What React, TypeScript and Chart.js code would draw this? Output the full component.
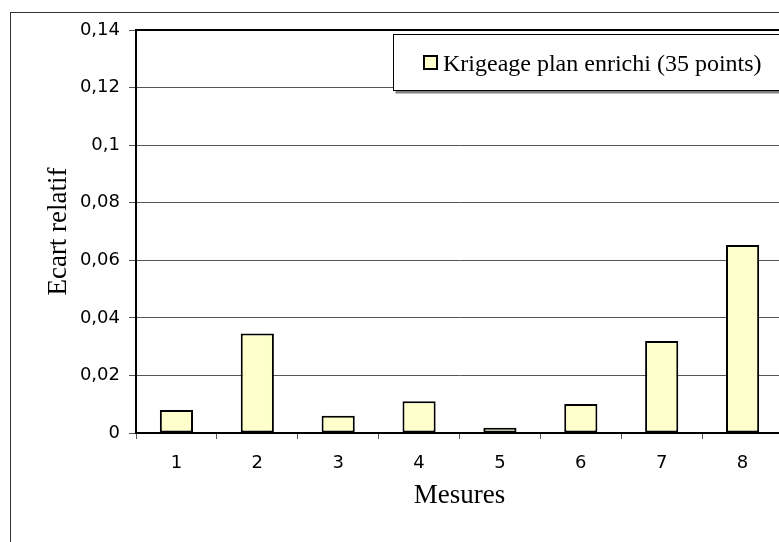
import React, { useEffect, useRef } from "react";
import { Chart, registerables } from "chart.js";

Chart.register(...registerables);

const categories = ["1", "2", "3", "4", "5", "6", "7", "8"];
const ecartValues = [0.008, 0.0346, 0.006, 0.011, 0.0018, 0.0101, 0.032, 0.0653];
const seriesLabel = "Krigeage plan enrichi (35 points)";
const yTickLabels = ["0", "0,02", "0,04", "0,06", "0,08", "0,1", "0,12", "0,14"];
const xTitle = "Mesures";
const yTitle = "Ecart relatif";

const BAR_FILL = "#FFFFCC";
const SANS = "'DejaVu Sans', sans-serif";
const SERIF = "'Liberation Serif', 'Times New Roman', serif";

const framePlugin = {
  id: "frame",
  beforeDraw(chart: any) {
    const ctx = chart.ctx;
    ctx.save();
    ctx.fillStyle = "#ffffff";
    ctx.fillRect(0, 0, chart.width, chart.height);
    ctx.strokeStyle = "#333333";
    ctx.lineWidth = 1;
    ctx.strokeRect(10.5, 12.5, chart.width + 50, chart.height + 50);
    ctx.restore();
  },
  afterDraw(chart: any) {
    const ctx = chart.ctx;
    const a = chart.chartArea;
    ctx.save();
    ctx.strokeStyle = "#000000";
    ctx.lineWidth = 2;
    ctx.strokeRect(a.left, a.top, a.right - a.left, a.bottom - a.top);

    // legend box
    const lx = 393.5;
    const ly = 34.5;
    const lh = 56;
    ctx.fillStyle = "#808080";
    ctx.fillRect(lx + 2, ly + lh, chart.width, 3);
    ctx.fillStyle = "#ffffff";
    ctx.fillRect(lx, ly, chart.width, lh);
    ctx.strokeStyle = "#000000";
    ctx.lineWidth = 1;
    ctx.strokeRect(lx, ly, chart.width, lh);

    const ds = chart.data.datasets[0];
    ctx.fillStyle = ds.backgroundColor;
    ctx.fillRect(424, 56, 13, 13);
    ctx.strokeStyle = "#000000";
    ctx.lineWidth = 2;
    ctx.strokeRect(424, 56, 13, 13);

    ctx.fillStyle = "#000000";
    ctx.font = "24px " + SERIF;
    ctx.textBaseline = "alphabetic";
    ctx.textAlign = "left";
    ctx.fillText(ds.label, 443, 71);
    ctx.restore();
  },
};

export default function App() {
  const ref = useRef<HTMLCanvasElement | null>(null);

  useEffect(() => {
    document.body.style.margin = "0";
    document.body.style.overflow = "hidden";
    if (!ref.current) return;
    const chart = new Chart(ref.current, {
      type: "bar",
      data: {
        labels: categories,
        datasets: [
          {
            label: seriesLabel,
            data: ecartValues,
            backgroundColor: BAR_FILL,
            borderColor: "#000000",
            borderWidth: 2,
            borderSkipped: false,
            barPercentage: 0.41,
            categoryPercentage: 1,
          },
        ],
      },
      options: {
        animation: false,
        responsive: false,
        maintainAspectRatio: false,
        devicePixelRatio: 1,
        layout: { padding: { top: 30, right: 17, left: 0, bottom: 0 } },
        plugins: {
          legend: { display: false },
          tooltip: { enabled: false },
          title: { display: false },
        },
        scales: {
          x: {
            afterFit(scale: any) {
              scale.height = 109;
            },
            grid: {
              display: true,
              offset: true,
              drawOnChartArea: false,
              drawTicks: true,
              tickLength: 6,
              color: "#555555",
            },
            border: { display: false },
            ticks: {
              color: "#000000",
              font: { family: SANS, size: 18 },
              padding: 14,
            },
            title: {
              display: true,
              text: xTitle,
              color: "#000000",
              font: { family: SERIF, size: 27 },
              padding: { top: 0, bottom: 30 },
            },
          },
          y: {
            min: 0,
            max: 0.14,
            afterFit(scale: any) {
              scale.width = 136;
            },
            grid: {
              color: "#555555",
              lineWidth: 1,
              tickLength: 7,
            },
            border: { display: false },
            ticks: {
              stepSize: 0.02,
              color: "#000000",
              font: { family: SANS, size: 18 },
              padding: 9,
              callback: (_v: any, i: number) => yTickLabels[i],
            },
            title: {
              display: true,
              text: yTitle,
              color: "#000000",
              font: { family: SERIF, size: 27 },
              padding: { top: 43, bottom: 0 },
            },
          },
        },
      },
      plugins: [framePlugin],
    });
    return () => chart.destroy();
  }, []);

  return (
    <div style={{ position: "relative", width: 779, height: 542, overflow: "hidden" }}>
      <canvas ref={ref} width={800} height={542} style={{ display: "block", width: 800, height: 542 }} />
    </div>
  );
}
